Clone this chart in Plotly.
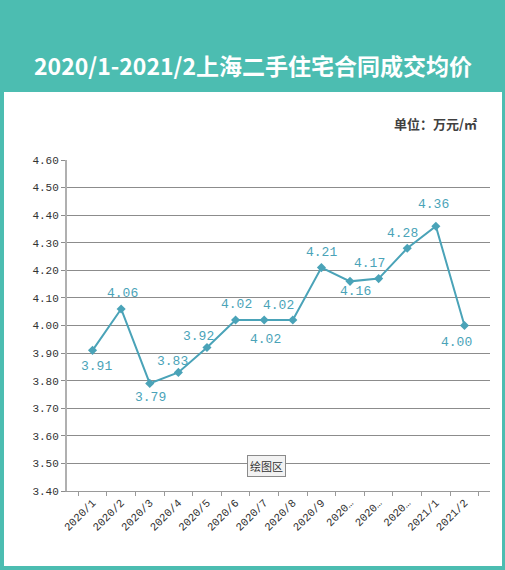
import plotly.graph_objects as go

# monthly average contract price of second-hand homes in Shanghai (10k yuan / m2)
months = ["2020/1", "2020/2", "2020/3", "2020/4", "2020/5", "2020/6", "2020/7",
          "2020/8", "2020/9", "2020/10", "2020/11", "2020/12", "2021/1", "2021/2"]
month_labels = ["2020/1", "2020/2", "2020/3", "2020/4", "2020/5", "2020/6", "2020/7",
                "2020/8", "2020/9", "2020…", "2020…", "2020…", "2021/1", "2021/2"]
price = [3.91, 4.06, 3.79, 3.83, 3.92, 4.02, 4.02, 4.02, 4.21, 4.16, 4.17, 4.28, 4.36, 4.00]
yticks = [3.40, 3.50, 3.60, 3.70, 3.80, 3.90, 4.00, 4.10, 4.20, 4.30, 4.40, 4.50, 4.60]

# where each data label sits relative to its point (pixels)
lbl_dx = [4, 1, 1, -6, -8, 1, 1, -14, 0, 5, -9, -5, -2, -8]
lbl_dy = [16, -15, 14, -11, -11, -15, 20, -14, -15, 10, -15, -15, -22, 17]

teal = "#4cbdb1"
line_col = "#4aa3b8"

fig = go.Figure()
fig.add_trace(go.Scatter(
    x=months, y=price,
    mode="lines+markers",
    line=dict(color=line_col, width=2),
    marker=dict(symbol="diamond", size=7, color=line_col),
    hoverinfo="x+y",
))

for m, v, dx, dy in zip(months, price, lbl_dx, lbl_dy):
    fig.add_annotation(x=m, y=v, text="%.2f" % v, showarrow=False,
                       xshift=dx, yshift=-dy,
                       font=dict(family="Liberation Mono", size=13, color=line_col))

L, R, T, B = 67, 15, 160, 79
W, H = 505, 570
pw, ph = W - L - R, H - T - B

def px(x):
    return (x - L) / pw

def py(y):
    return (H - B - y) / ph

# white panel below the title band
fig.add_shape(type="rect", xref="paper", yref="paper",
              x0=px(4), x1=px(502), y0=py(566), y1=py(92),
              fillcolor="white", line=dict(width=0), layer="below")

fig.add_annotation(xref="paper", yref="paper", x=px(253), y=py(46),
                   text="<b>2020/1-2021/2上海二手住宅合同成交均价</b>", showarrow=False,
                   font=dict(family="Noto Sans CJK SC", size=23, color="white"))
fig.add_annotation(xref="paper", yref="paper", x=px(479), y=py(112), xanchor="right",
                   text="<b>单位：万元/㎡</b>", showarrow=False,
                   font=dict(family="Noto Sans CJK SC", size=13, color="#404040"))
fig.add_annotation(xref="paper", yref="paper", x=px(266), y=py(477),
                   text="绘图区", showarrow=False,
                   bgcolor="#f2f2f2", bordercolor="#8a8a8a", borderwidth=1, borderpad=2,
                   font=dict(family="Noto Sans CJK SC", size=11, color="#333333"))

fig.update_layout(
    width=W, height=H,
    margin=dict(l=L, r=R, t=T, b=B),
    paper_bgcolor=teal,
    plot_bgcolor="white",
    showlegend=False,
    xaxis=dict(
        type="category",
        tickvals=months, ticktext=month_labels,
        tickangle=-45,
        tickfont=dict(family="Liberation Mono", size=11, color="#333333"),
        showgrid=False,
        showline=True, linecolor="#9a9a9a", linewidth=1,
        ticks="outside", ticklen=4, tickcolor="#9a9a9a", tickson="boundaries",
    ),
    yaxis=dict(
        range=[3.40, 4.60],
        tickvals=yticks, tickformat=".2f",
        tickfont=dict(family="Liberation Mono", size=11, color="#333333"),
        showgrid=True, gridcolor="#8c8c8c", gridwidth=1,
        showline=True, linecolor="#b0b0b0", linewidth=2,
        ticks="outside", ticklen=4, tickcolor="#8c8c8c",
        zeroline=False,
    ),
)

fig.write_html("out.html", config={"displayModeBar": False},
               post_script="document.body.style.margin='0';")
